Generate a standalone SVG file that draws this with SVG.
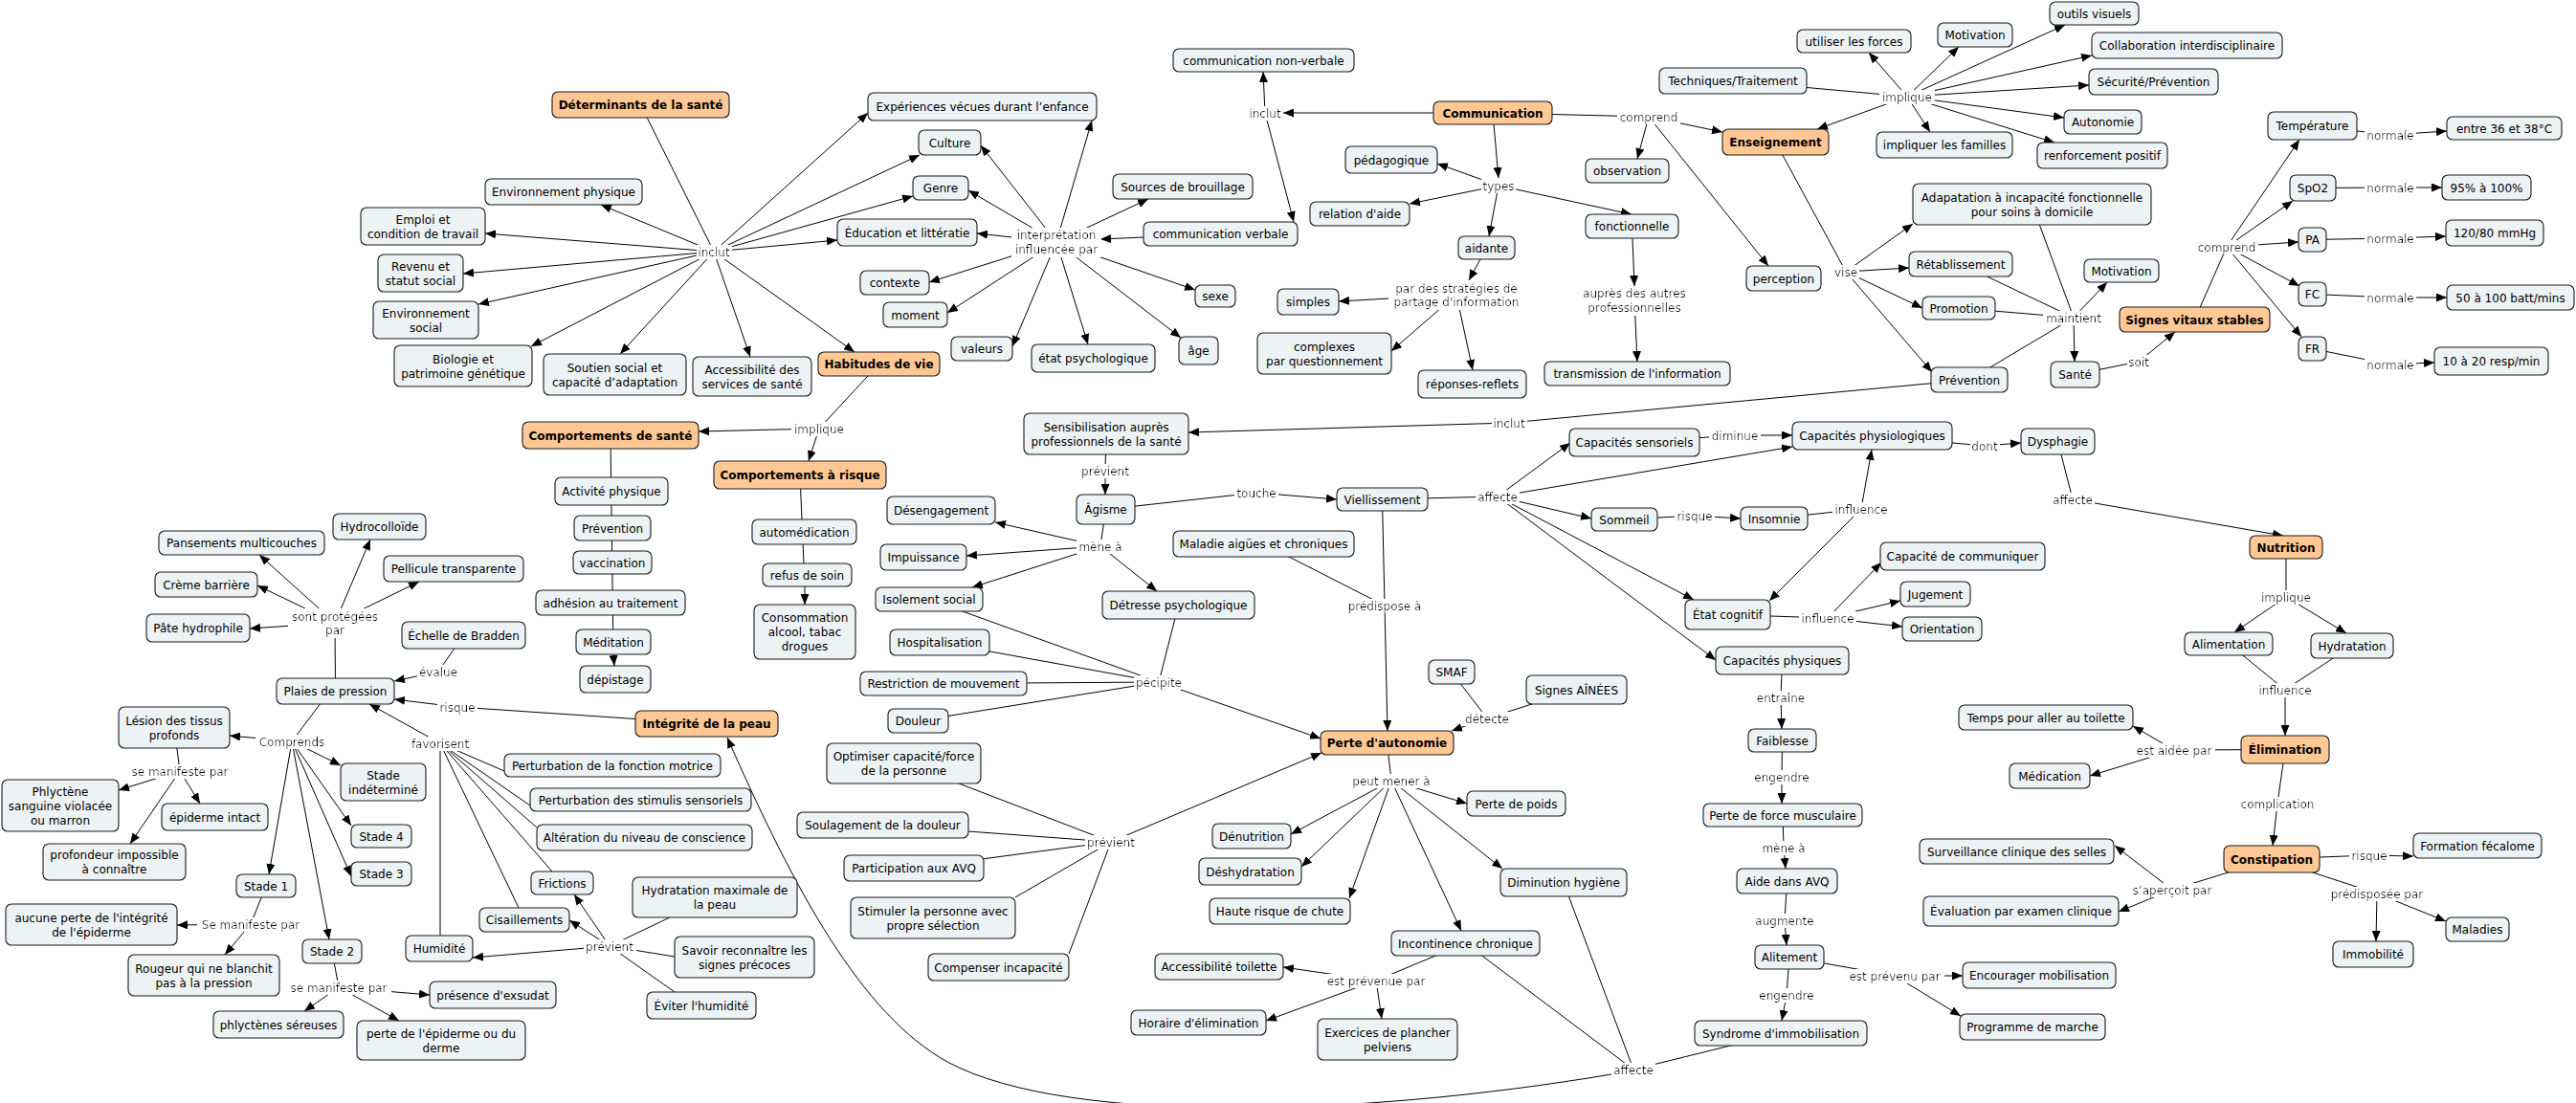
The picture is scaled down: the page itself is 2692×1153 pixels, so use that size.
<svg xmlns="http://www.w3.org/2000/svg" width="2692" height="1153" viewBox="0 0 2692 1153">
<style>
.n rect{fill:#EDF2F4;stroke:#1a1a1a;stroke-width:1.1}
.o rect{fill:#FFC894;stroke:#1a1a1a;stroke-width:1.1}
text{font-family:"DejaVu Sans",Verdana,sans-serif;font-size:12px;fill:#000;text-anchor:middle}
.o text{font-weight:bold}
.c line,.c path{stroke:#000;stroke-width:1;fill:none}
.c .a{marker-end:url(#ah)}
.lp text{filter:url(#bg)}
</style>
<defs>
<marker id="ah" markerUnits="userSpaceOnUse" markerWidth="11" markerHeight="9" refX="11" refY="4.5" orient="auto"><path d="M0,0 L11,4.5 L0,9 Z" fill="#000"/></marker>
<filter id="bg" x="-0.04" y="-0.02" width="1.08" height="1.04"><feFlood flood-color="#fff"/><feComposite in="SourceGraphic" operator="over"/></filter>
</defs>
<rect width="2692" height="1153" fill="#fff"/>
<g id="connectors" class="c">
<line x1="669.5" y1="109.5" x2="746" y2="263"/>
<line class="a" x1="746" y1="263" x2="628" y2="214"/>
<line class="a" x1="746" y1="263" x2="507" y2="244"/>
<line class="a" x1="746" y1="263" x2="484" y2="286"/>
<line class="a" x1="746" y1="263" x2="500" y2="318"/>
<line class="a" x1="746" y1="263" x2="555" y2="362"/>
<line class="a" x1="746" y1="263" x2="648" y2="370"/>
<line class="a" x1="746" y1="263" x2="784" y2="373"/>
<line class="a" x1="746" y1="263" x2="893" y2="368"/>
<line class="a" x1="746" y1="263" x2="875" y2="251"/>
<line class="a" x1="746" y1="263" x2="954" y2="205"/>
<line class="a" x1="746" y1="263" x2="961" y2="162"/>
<line class="a" x1="746" y1="263" x2="907" y2="118"/>
<line class="a" x1="1104" y1="253" x2="1141" y2="126"/>
<line class="a" x1="1104" y1="253" x2="1025" y2="152"/>
<line class="a" x1="1104" y1="253" x2="1012" y2="199"/>
<line class="a" x1="1104" y1="253" x2="1021" y2="244"/>
<line class="a" x1="1104" y1="253" x2="1200" y2="208"/>
<line class="a" x1="1104" y1="253" x2="971" y2="295"/>
<line class="a" x1="1104" y1="253" x2="990" y2="327"/>
<line class="a" x1="1104" y1="253" x2="1058" y2="362"/>
<line class="a" x1="1104" y1="253" x2="1137" y2="360"/>
<line class="a" x1="1104" y1="253" x2="1234" y2="353"/>
<line class="a" x1="1104" y1="253" x2="1249" y2="303"/>
<line class="a" x1="1275.5" y1="244.5" x2="1150" y2="250"/>
<line class="a" x1="1560" y1="118" x2="1341" y2="118"/>
<line class="a" x1="1322" y1="118" x2="1320" y2="75"/>
<line class="a" x1="1322" y1="118" x2="1352" y2="232"/>
<line class="a" x1="1560" y1="118" x2="1566" y2="186"/>
<line class="a" x1="1566" y1="194" x2="1502" y2="171"/>
<line class="a" x1="1566" y1="194" x2="1473" y2="213"/>
<line class="a" x1="1566" y1="194" x2="1556" y2="247"/>
<line class="a" x1="1566" y1="194" x2="1705" y2="224"/>
<line class="a" x1="1553.5" y1="259" x2="1535" y2="293"/>
<line class="a" x1="1522" y1="308" x2="1399" y2="315"/>
<line class="a" x1="1522" y1="308" x2="1454" y2="367"/>
<line class="a" x1="1522" y1="308" x2="1539" y2="387"/>
<line class="a" x1="1705.5" y1="236.5" x2="1708" y2="299"/>
<line class="a" x1="1708" y1="314" x2="1711" y2="378"/>
<line x1="1560" y1="118" x2="1723" y2="122"/>
<line class="a" x1="1723" y1="122" x2="1711" y2="166"/>
<line class="a" x1="1723" y1="122" x2="1848" y2="278"/>
<line class="a" x1="1723" y1="122" x2="1800" y2="138"/>
<line x1="1811" y1="84.5" x2="1993" y2="101"/>
<line class="a" x1="1993" y1="101" x2="1953" y2="55"/>
<line class="a" x1="1993" y1="101" x2="2047" y2="49"/>
<line class="a" x1="1993" y1="101" x2="2158" y2="26"/>
<line class="a" x1="1993" y1="101" x2="2186" y2="58"/>
<line class="a" x1="1993" y1="101" x2="2183" y2="89"/>
<line class="a" x1="1993" y1="101" x2="2157" y2="123"/>
<line class="a" x1="1993" y1="101" x2="2147" y2="149"/>
<line class="a" x1="1993" y1="101" x2="2017" y2="138"/>
<line class="a" x1="1993" y1="101" x2="1899" y2="135"/>
<line x1="1855.5" y1="148.5" x2="1929" y2="284"/>
<line class="a" x1="1929" y1="284" x2="1999" y2="234"/>
<line class="a" x1="1929" y1="284" x2="1995" y2="280"/>
<line class="a" x1="1929" y1="284" x2="2009" y2="322"/>
<line class="a" x1="1929" y1="284" x2="2019" y2="389"/>
<line x1="2123.5" y1="213.5" x2="2167" y2="332"/>
<line x1="2049" y1="276" x2="2167" y2="332"/>
<line x1="2047" y1="322" x2="2167" y2="332"/>
<line x1="2058" y1="397" x2="2167" y2="332"/>
<line class="a" x1="2167" y1="332" x2="2202" y2="295"/>
<line class="a" x1="2167" y1="332" x2="2168" y2="378"/>
<line x1="2168.5" y1="391.5" x2="2235" y2="378"/>
<line class="a" x1="2235" y1="378" x2="2273" y2="347"/>
<line x1="2293.5" y1="334" x2="2327" y2="258"/>
<line class="a" x1="2327" y1="258" x2="2403" y2="146"/>
<line class="a" x1="2327" y1="258" x2="2396" y2="210"/>
<line class="a" x1="2327" y1="258" x2="2402" y2="253"/>
<line class="a" x1="2327" y1="258" x2="2403" y2="299"/>
<line class="a" x1="2327" y1="258" x2="2405" y2="352"/>
<line x1="2416.5" y1="131.5" x2="2498" y2="141"/>
<line class="a" x1="2498" y1="141" x2="2557" y2="137"/>
<line x1="2417" y1="196.5" x2="2498" y2="196"/>
<line class="a" x1="2498" y1="196" x2="2552" y2="196"/>
<line x1="2416.5" y1="250.5" x2="2498" y2="249"/>
<line class="a" x1="2498" y1="249" x2="2556" y2="247"/>
<line x1="2416.5" y1="307.5" x2="2498" y2="311"/>
<line class="a" x1="2498" y1="311" x2="2557" y2="311"/>
<line x1="2416.5" y1="364.5" x2="2498" y2="381"/>
<line class="a" x1="2498" y1="381" x2="2544" y2="379"/>
<line x1="2058" y1="397" x2="1577" y2="442"/>
<line class="a" x1="1577" y1="442" x2="1242" y2="452"/>
<line x1="1156" y1="453.5" x2="1155" y2="492"/>
<line class="a" x1="1155" y1="492" x2="1155" y2="517"/>
<line x1="1155.5" y1="532.5" x2="1313" y2="515"/>
<line class="a" x1="1313" y1="515" x2="1397" y2="522"/>
<line x1="1155.5" y1="532.5" x2="1150" y2="571"/>
<line class="a" x1="1150" y1="571" x2="1040" y2="546"/>
<line class="a" x1="1150" y1="571" x2="1010" y2="581"/>
<line class="a" x1="1150" y1="571" x2="1016" y2="614"/>
<line class="a" x1="1150" y1="571" x2="1209" y2="618"/>
<line x1="971" y1="626.5" x2="1211" y2="713"/>
<line x1="982" y1="671.5" x2="1211" y2="713"/>
<line x1="986" y1="714.5" x2="1211" y2="713"/>
<line x1="959.5" y1="753.5" x2="1211" y2="713"/>
<line x1="1231.5" y1="632.5" x2="1211" y2="713"/>
<line class="a" x1="1211" y1="713" x2="1380" y2="772"/>
<line x1="1444.5" y1="522" x2="1447" y2="633"/>
<line x1="1320.5" y1="568.5" x2="1447" y2="633"/>
<line class="a" x1="1447" y1="633" x2="1450" y2="764"/>
<line x1="1517" y1="702.5" x2="1554" y2="751"/>
<line x1="1647.5" y1="721" x2="1554" y2="751"/>
<line class="a" x1="1554" y1="751" x2="1517" y2="764"/>
<line x1="1444.5" y1="522" x2="1565" y2="519"/>
<line class="a" x1="1565" y1="519" x2="1641" y2="463"/>
<line class="a" x1="1565" y1="519" x2="1873" y2="467"/>
<line class="a" x1="1565" y1="519" x2="1663" y2="542"/>
<line class="a" x1="1565" y1="519" x2="1770" y2="627"/>
<line class="a" x1="1565" y1="519" x2="1793" y2="690"/>
<line x1="1708" y1="462.5" x2="1813" y2="455"/>
<line class="a" x1="1813" y1="455" x2="1873" y2="455"/>
<line x1="1697.5" y1="543" x2="1771" y2="539"/>
<line class="a" x1="1771" y1="539" x2="1819" y2="542"/>
<line x1="1854" y1="542" x2="1945" y2="532"/>
<line class="a" x1="1945" y1="532" x2="1956" y2="470"/>
<line class="a" x1="1945" y1="532" x2="1849" y2="628"/>
<line x1="1956.5" y1="455.5" x2="2074" y2="466"/>
<line class="a" x1="2074" y1="466" x2="2112" y2="463"/>
<line x1="2150.5" y1="461.5" x2="2166" y2="522"/>
<line class="a" x1="2166" y1="522" x2="2386" y2="560"/>
<line x1="2389" y1="572" x2="2389" y2="624"/>
<line class="a" x1="2389" y1="624" x2="2335" y2="661"/>
<line class="a" x1="2389" y1="624" x2="2452" y2="662"/>
<line x1="2329" y1="673" x2="2388" y2="721"/>
<line x1="2458" y1="675" x2="2388" y2="721"/>
<line class="a" x1="2388" y1="721" x2="2388" y2="769"/>
<line x1="1805.5" y1="642.5" x2="1910" y2="646"/>
<line class="a" x1="1910" y1="646" x2="1966" y2="588"/>
<line class="a" x1="1910" y1="646" x2="1986" y2="628"/>
<line class="a" x1="1910" y1="646" x2="1988" y2="655"/>
<line x1="1862.5" y1="690.5" x2="1861" y2="729"/>
<line class="a" x1="1861" y1="729" x2="1862" y2="762"/>
<line x1="1862.5" y1="774" x2="1862" y2="812"/>
<line class="a" x1="1862" y1="812" x2="1862" y2="840"/>
<line x1="1863" y1="852" x2="1864" y2="886"/>
<line class="a" x1="1864" y1="886" x2="1866" y2="908"/>
<line x1="1867.5" y1="921" x2="1865" y2="962"/>
<line class="a" x1="1865" y1="962" x2="1867" y2="988"/>
<line x1="1870" y1="1000.5" x2="1867" y2="1040"/>
<line class="a" x1="1867" y1="1040" x2="1862" y2="1067"/>
<line x1="1870" y1="1000.5" x2="1980" y2="1020"/>
<line class="a" x1="1980" y1="1020" x2="2051" y2="1020"/>
<line class="a" x1="1980" y1="1020" x2="2049" y2="1062"/>
<line x1="2388" y1="783.5" x2="2272" y2="784"/>
<line class="a" x1="2272" y1="784" x2="2229" y2="759"/>
<line class="a" x1="2272" y1="784" x2="2184" y2="811"/>
<line x1="2388" y1="783.5" x2="2380" y2="840"/>
<line class="a" x1="2380" y1="840" x2="2375" y2="884"/>
<line x1="2374" y1="898" x2="2476" y2="894"/>
<line class="a" x1="2476" y1="894" x2="2522" y2="895"/>
<line x1="2374" y1="898" x2="2270" y2="930"/>
<line class="a" x1="2270" y1="930" x2="2210" y2="884"/>
<line class="a" x1="2270" y1="930" x2="2214" y2="953"/>
<line x1="2374" y1="898" x2="2484" y2="934"/>
<line class="a" x1="2484" y1="934" x2="2483" y2="984"/>
<line class="a" x1="2484" y1="934" x2="2556" y2="963"/>
<line x1="1449.5" y1="776.5" x2="1454" y2="816"/>
<line class="a" x1="1454" y1="816" x2="1533" y2="840"/>
<line class="a" x1="1454" y1="816" x2="1349" y2="872"/>
<line class="a" x1="1454" y1="816" x2="1360" y2="906"/>
<line class="a" x1="1454" y1="816" x2="1410" y2="939"/>
<line class="a" x1="1454" y1="816" x2="1527" y2="973"/>
<line class="a" x1="1454" y1="816" x2="1570" y2="908"/>
<line x1="1531.5" y1="986" x2="1438" y2="1025"/>
<line class="a" x1="1438" y1="1025" x2="1341" y2="1011"/>
<line class="a" x1="1438" y1="1025" x2="1323" y2="1067"/>
<line class="a" x1="1438" y1="1025" x2="1444" y2="1065"/>
<line x1="1531.5" y1="986" x2="1707" y2="1118"/>
<line x1="1634" y1="922.5" x2="1707" y2="1118"/>
<line x1="1861" y1="1080" x2="1707" y2="1118"/>
<path class="a" d="M1707,1119 C1450,1165 1120,1180 990,1110 C900,1060 830,930 760,771"/>
<line x1="1002" y1="819" x2="1161" y2="880"/>
<line x1="922.5" y1="862.5" x2="1161" y2="880"/>
<line x1="955" y1="907.5" x2="1161" y2="880"/>
<line x1="1061" y1="938" x2="1161" y2="880"/>
<line x1="1117" y1="997" x2="1161" y2="880"/>
<line class="a" x1="1161" y1="880" x2="1381" y2="787"/>
<line x1="738.5" y1="756.5" x2="478" y2="739"/>
<line class="a" x1="478" y1="739" x2="412" y2="731"/>
<line x1="484.5" y1="664" x2="458" y2="702"/>
<line class="a" x1="458" y1="702" x2="412" y2="712"/>
<line x1="350.5" y1="722.5" x2="350" y2="651"/>
<line class="a" x1="350" y1="651" x2="387" y2="564"/>
<line class="a" x1="350" y1="651" x2="271" y2="580"/>
<line class="a" x1="350" y1="651" x2="438" y2="608"/>
<line class="a" x1="350" y1="651" x2="269" y2="612"/>
<line class="a" x1="350" y1="651" x2="261" y2="657"/>
<line x1="339" y1="730" x2="305" y2="775"/>
<line class="a" x1="305" y1="775" x2="240" y2="769"/>
<line class="a" x1="305" y1="775" x2="356" y2="800"/>
<line class="a" x1="305" y1="775" x2="367" y2="863"/>
<line class="a" x1="305" y1="775" x2="367" y2="916"/>
<line class="a" x1="305" y1="775" x2="281" y2="914"/>
<line class="a" x1="305" y1="775" x2="344" y2="982"/>
<line x1="182" y1="760.5" x2="188" y2="806"/>
<line class="a" x1="188" y1="806" x2="124" y2="826"/>
<line class="a" x1="188" y1="806" x2="209" y2="840"/>
<line class="a" x1="188" y1="806" x2="136" y2="882"/>
<line x1="278" y1="926" x2="262" y2="966"/>
<line class="a" x1="262" y1="966" x2="185" y2="967"/>
<line class="a" x1="262" y1="966" x2="235" y2="998"/>
<line x1="347" y1="994.5" x2="354" y2="1032"/>
<line class="a" x1="354" y1="1032" x2="449" y2="1040"/>
<line class="a" x1="354" y1="1032" x2="318" y2="1057"/>
<line class="a" x1="354" y1="1032" x2="417" y2="1067"/>
<line x1="527" y1="806" x2="460" y2="777"/>
<line x1="554" y1="842" x2="460" y2="777"/>
<line x1="561" y1="865" x2="460" y2="777"/>
<line x1="577" y1="911" x2="460" y2="777"/>
<line x1="542" y1="949" x2="460" y2="777"/>
<line x1="460" y1="978" x2="460" y2="777"/>
<line class="a" x1="460" y1="777" x2="386" y2="736"/>
<line x1="700" y1="959" x2="637" y2="989"/>
<line x1="705" y1="1000" x2="637" y2="989"/>
<line x1="705" y1="1037" x2="637" y2="989"/>
<line class="a" x1="637" y1="989" x2="600" y2="935"/>
<line class="a" x1="637" y1="989" x2="595" y2="962"/>
<line class="a" x1="637" y1="989" x2="494" y2="1001"/>
<line x1="918.5" y1="380.5" x2="856" y2="448"/>
<line class="a" x1="856" y1="448" x2="730" y2="451"/>
<line class="a" x1="856" y1="448" x2="845" y2="482"/>
<line x1="638" y1="455" x2="641" y2="684"/>
<line class="a" x1="641" y1="684" x2="642" y2="696"/>
<line x1="836" y1="496.5" x2="841" y2="613"/>
<line class="a" x1="841" y1="613" x2="841" y2="632"/>
</g>
<g id="links" class="lp">
<text x="746" y="267.5">inclut</text>
<text x="1104" y="250">interprétation<tspan x="1104" y="265">influencée par</tspan></text>
<text x="1322" y="122.5">inclut</text>
<text x="1723" y="126.5">comprend</text>
<text x="1566" y="198.5">types</text>
<text x="1522" y="305.5">par des stratégies de<tspan x="1522" y="319.5">partage d'information</tspan></text>
<text x="1708" y="311">auprès des autres<tspan x="1708" y="325.5">professionnelles</tspan></text>
<text x="1993" y="105.5">implique</text>
<text x="1929" y="288.5">vise</text>
<text x="2167" y="336.5">maintient</text>
<text x="2235" y="382.5">soit</text>
<text x="2327" y="262.5">comprend</text>
<text x="2498" y="145.5">normale</text>
<text x="2498" y="200.5">normale</text>
<text x="2498" y="253.5">normale</text>
<text x="2498" y="315.5">normale</text>
<text x="2498" y="385.5">normale</text>
<text x="856" y="452.5">implique</text>
<text x="350" y="648.5">sont protégées<tspan x="350" y="662.5">par</tspan></text>
<text x="458" y="706.5">évalue</text>
<text x="478" y="743.5">risque</text>
<text x="1577" y="446.5">inclut</text>
<text x="1155" y="496.5">prévient</text>
<text x="1313" y="519.5">touche</text>
<text x="1565" y="523.5">affecte</text>
<text x="1771" y="543.5">risque</text>
<text x="1150" y="575.5">mène à</text>
<text x="1447" y="637.5">prédispose à</text>
<text x="1211" y="717.5">pécipite</text>
<text x="1554" y="755.5">détecte</text>
<text x="1813" y="459.5">diminue</text>
<text x="2074" y="470.5">dont</text>
<text x="1945" y="536.5">influence</text>
<text x="2166" y="526.5">affecte</text>
<text x="2389" y="628.5">implique</text>
<text x="2388" y="725.5">influence</text>
<text x="1910" y="650.5">influence</text>
<text x="1861" y="733.5">entraîne</text>
<text x="2272" y="788.5">est aidée par</text>
<text x="1862" y="816.5">engendre</text>
<text x="1864" y="890.5">mène à</text>
<text x="1865" y="966.5">augmente</text>
<text x="1980" y="1024.5">est prévenu par</text>
<text x="1867" y="1044.5">engendre</text>
<text x="2380" y="844.5">complication</text>
<text x="2476" y="898.5">risque</text>
<text x="2270" y="934.5">s’aperçoit par</text>
<text x="2484" y="938.5">prédisposée par</text>
<text x="1161" y="884.5">prévient</text>
<text x="1454" y="820.5">peut mener à</text>
<text x="1438" y="1029.5">est prévenue par</text>
<text x="1707" y="1122.5">affecte</text>
<text x="305" y="779.5">Comprends</text>
<text x="460" y="781.5">favorisent</text>
<text x="188" y="810.5">se manifeste par</text>
<text x="262" y="970.5">Se manifeste par</text>
<text x="354" y="1036.5">se manifeste par</text>
<text x="637" y="993.5">prévient</text>
</g>
<g id="nodes">
<g id="n1" class="o"><rect x="577" y="96" width="185" height="27" rx="6"/><text x="669.5" y="114">Déterminants de la santé</text></g>
<g id="n2" class="n"><rect x="507" y="187" width="164" height="27" rx="6"/><text x="589" y="205">Environnement physique</text></g>
<g id="n3" class="n"><rect x="377" y="217" width="130" height="39" rx="6"/><text x="442" y="233.5">Emploi et<tspan x="442" y="248.5">condition de travail</tspan></text></g>
<g id="n4" class="n"><rect x="395" y="266" width="89" height="39" rx="6"/><text x="439.5" y="282.5">Revenu et<tspan x="439.5" y="297.5">statut social</tspan></text></g>
<g id="n5" class="n"><rect x="390" y="315" width="110" height="39" rx="6"/><text x="445" y="331.5">Environnement<tspan x="445" y="346.5">social</tspan></text></g>
<g id="n6" class="n"><rect x="412" y="361" width="144" height="43" rx="6"/><text x="484" y="379.5">Biologie et<tspan x="484" y="394.5">patrimoine génétique</tspan></text></g>
<g id="n7" class="n"><rect x="568" y="370" width="149" height="43" rx="6"/><text x="642.5" y="388.5">Soutien social et<tspan x="642.5" y="403.5">capacité d’adaptation</tspan></text></g>
<g id="n8" class="n"><rect x="724" y="373" width="124" height="41" rx="6"/><text x="786" y="390.5">Accessibilité des<tspan x="786" y="405.5">services de santé</tspan></text></g>
<g id="n9" class="o"><rect x="855" y="368" width="127" height="25" rx="6"/><text x="918.5" y="385">Habitudes de vie</text></g>
<g id="n10" class="n"><rect x="907" y="97" width="239" height="29" rx="6"/><text x="1026.5" y="116">Expériences vécues durant l’enfance</text></g>
<g id="n11" class="n"><rect x="960" y="136" width="65" height="26" rx="6"/><text x="992.5" y="153.5">Culture</text></g>
<g id="n12" class="n"><rect x="954" y="184" width="58" height="25" rx="6"/><text x="983" y="201">Genre</text></g>
<g id="n13" class="n"><rect x="875" y="229" width="146" height="28" rx="6"/><text x="948" y="247.5">Éducation et littératie</text></g>
<g id="n14" class="n"><rect x="1163" y="182" width="146" height="26" rx="6"/><text x="1236" y="199.5">Sources de brouillage</text></g>
<g id="n15" class="n"><rect x="1195" y="232" width="161" height="25" rx="6"/><text x="1275.5" y="249">communication verbale</text></g>
<g id="n16" class="n"><rect x="899" y="283" width="72" height="25" rx="6"/><text x="935" y="300">contexte</text></g>
<g id="n17" class="n"><rect x="923" y="316" width="67" height="26" rx="6"/><text x="956.5" y="333.5">moment</text></g>
<g id="n18" class="n"><rect x="994" y="352" width="64" height="25" rx="6"/><text x="1026" y="369">valeurs</text></g>
<g id="n19" class="n"><rect x="1078" y="360" width="129" height="29" rx="6"/><text x="1142.5" y="379">état psychologique</text></g>
<g id="n20" class="n"><rect x="1232" y="352" width="41" height="29" rx="6"/><text x="1252.5" y="371">âge</text></g>
<g id="n21" class="n"><rect x="1249" y="298" width="42" height="23" rx="6"/><text x="1270" y="314">sexe</text></g>
<g id="n22" class="n"><rect x="1226" y="51" width="189" height="24" rx="6"/><text x="1320.5" y="67.5">communication non-verbale</text></g>
<g id="n23" class="o"><rect x="1498" y="106" width="124" height="24" rx="6"/><text x="1560" y="122.5">Communication</text></g>
<g id="n24" class="n"><rect x="1406" y="153" width="96" height="28" rx="6"/><text x="1454" y="171.5">pédagogique</text></g>
<g id="n25" class="n"><rect x="1369" y="211" width="104" height="25" rx="6"/><text x="1421" y="228">relation d'aide</text></g>
<g id="n26" class="n"><rect x="1524" y="247" width="59" height="24" rx="6"/><text x="1553.5" y="263.5">aidante</text></g>
<g id="n27" class="n"><rect x="1657" y="224" width="97" height="25" rx="6"/><text x="1705.5" y="241">fonctionnelle</text></g>
<g id="n28" class="n"><rect x="1657" y="166" width="87" height="25" rx="6"/><text x="1700.5" y="183">observation</text></g>
<g id="n29" class="n"><rect x="1335" y="302" width="64" height="27" rx="6"/><text x="1367" y="320">simples</text></g>
<g id="n30" class="n"><rect x="1314" y="348" width="140" height="43" rx="6"/><text x="1384" y="366.5">complexes<tspan x="1384" y="381.5">par questionnement</tspan></text></g>
<g id="n31" class="n"><rect x="1482" y="387" width="113" height="29" rx="6"/><text x="1538.5" y="406">réponses-reflets</text></g>
<g id="n32" class="n"><rect x="1614" y="378" width="194" height="25" rx="6"/><text x="1711" y="395">transmission de l'information</text></g>
<g id="n33" class="n"><rect x="1734" y="71" width="154" height="27" rx="6"/><text x="1811" y="89">Techniques/Traitement</text></g>
<g id="n34" class="n"><rect x="1878" y="31" width="119" height="24" rx="6"/><text x="1937.5" y="47.5">utiliser les forces</text></g>
<g id="n35" class="n"><rect x="2025" y="24" width="78" height="25" rx="6"/><text x="2064" y="41">Motivation</text></g>
<g id="n36" class="n"><rect x="2142" y="2" width="93" height="24" rx="6"/><text x="2188.5" y="18.5">outils visuels</text></g>
<g id="n37" class="n"><rect x="2186" y="34" width="199" height="27" rx="6"/><text x="2285.5" y="52">Collaboration interdisciplinaire</text></g>
<g id="n38" class="n"><rect x="2183" y="72" width="135" height="27" rx="6"/><text x="2250.5" y="90">Sécurité/Prévention</text></g>
<g id="n39" class="n"><rect x="2157" y="115" width="81" height="25" rx="6"/><text x="2197.5" y="132">Autonomie</text></g>
<g id="n40" class="n"><rect x="2129" y="149" width="136" height="27" rx="6"/><text x="2197" y="167">renforcement positif</text></g>
<g id="n41" class="n"><rect x="1961" y="138" width="142" height="27" rx="6"/><text x="2032" y="156">impliquer les familles</text></g>
<g id="n42" class="o"><rect x="1800" y="135" width="111" height="27" rx="6"/><text x="1855.5" y="153">Enseignement</text></g>
<g id="n43" class="n"><rect x="1825" y="278" width="78" height="26" rx="6"/><text x="1864" y="295.5">perception</text></g>
<g id="n44" class="n"><rect x="1999" y="192" width="249" height="43" rx="6"/><text x="2123.5" y="210.5">Adapatation à incapacité fonctionnelle<tspan x="2123.5" y="225.5">pour soins à domicile</tspan></text></g>
<g id="n45" class="n"><rect x="1995" y="263" width="108" height="26" rx="6"/><text x="2049" y="280.5">Rétablissement</text></g>
<g id="n46" class="n"><rect x="2009" y="310" width="76" height="24" rx="6"/><text x="2047" y="326.5">Promotion</text></g>
<g id="n47" class="n"><rect x="2178" y="271" width="78" height="24" rx="6"/><text x="2217" y="287.5">Motivation</text></g>
<g id="n48" class="o"><rect x="2215" y="321" width="157" height="26" rx="6"/><text x="2293.5" y="338.5">Signes vitaux stables</text></g>
<g id="n49" class="n"><rect x="2143" y="378" width="51" height="27" rx="6"/><text x="2168.5" y="396">Santé</text></g>
<g id="n50" class="n"><rect x="2018" y="384" width="80" height="26" rx="6"/><text x="2058" y="401.5">Prévention</text></g>
<g id="n51" class="n"><rect x="2370" y="117" width="93" height="29" rx="6"/><text x="2416.5" y="136">Température</text></g>
<g id="n52" class="n"><rect x="2393" y="183" width="48" height="27" rx="6"/><text x="2417" y="201">SpO2</text></g>
<g id="n53" class="n"><rect x="2402" y="238" width="29" height="25" rx="6"/><text x="2416.5" y="255">PA</text></g>
<g id="n54" class="n"><rect x="2402" y="295" width="29" height="25" rx="6"/><text x="2416.5" y="312">FC</text></g>
<g id="n55" class="n"><rect x="2402" y="352" width="29" height="25" rx="6"/><text x="2416.5" y="369">FR</text></g>
<g id="n56" class="n"><rect x="2557" y="122" width="120" height="24" rx="6"/><text x="2617" y="138.5">entre 36 et 38°C</text></g>
<g id="n57" class="n"><rect x="2552" y="183" width="93" height="26" rx="6"/><text x="2598.5" y="200.5">95% à 100%</text></g>
<g id="n58" class="n"><rect x="2556" y="230" width="102" height="27" rx="6"/><text x="2607" y="248">120/80 mmHg</text></g>
<g id="n59" class="n"><rect x="2557" y="298" width="133" height="26" rx="6"/><text x="2623.5" y="315.5">50 à 100 batt/mins</text></g>
<g id="n60" class="n"><rect x="2544" y="363" width="119" height="29" rx="6"/><text x="2603.5" y="382">10 à 20 resp/min</text></g>
<g id="n61" class="o"><rect x="546" y="441" width="184" height="28" rx="6"/><text x="638" y="459.5">Comportements de santé</text></g>
<g id="n62" class="o"><rect x="746" y="482" width="180" height="29" rx="6"/><text x="836" y="501">Comportements à risque</text></g>
<g id="n63" class="n"><rect x="580" y="499" width="118" height="29" rx="6"/><text x="639" y="518">Activité physique</text></g>
<g id="n64" class="n"><rect x="600" y="539" width="80" height="26" rx="6"/><text x="640" y="556.5">Prévention</text></g>
<g id="n65" class="n"><rect x="599" y="576" width="82" height="24" rx="6"/><text x="640" y="592.5">vaccination</text></g>
<g id="n66" class="n"><rect x="560" y="617" width="156" height="26" rx="6"/><text x="638" y="634.5">adhésion au traitement</text></g>
<g id="n67" class="n"><rect x="602" y="658" width="78" height="26" rx="6"/><text x="641" y="675.5">Méditation</text></g>
<g id="n68" class="n"><rect x="606" y="696" width="74" height="28" rx="6"/><text x="643" y="714.5">dépistage</text></g>
<g id="n69" class="n"><rect x="786" y="543" width="109" height="26" rx="6"/><text x="840.5" y="560.5">automédication</text></g>
<g id="n70" class="n"><rect x="797" y="589" width="93" height="24" rx="6"/><text x="843.5" y="605.5">refus de soin</text></g>
<g id="n71" class="n"><rect x="788" y="632" width="106" height="57" rx="6"/><text x="841" y="650">Consommation<tspan x="841" y="665">alcool, tabac</tspan><tspan x="841" y="680">drogues</tspan></text></g>
<g id="n72" class="n"><rect x="348" y="537" width="97" height="27" rx="6"/><text x="396.5" y="555">Hydrocolloïde</text></g>
<g id="n73" class="n"><rect x="166" y="555" width="173" height="25" rx="6"/><text x="252.5" y="572">Pansements multicouches</text></g>
<g id="n74" class="n"><rect x="401" y="581" width="146" height="27" rx="6"/><text x="474" y="599">Pellicule transparente</text></g>
<g id="n75" class="n"><rect x="162" y="598" width="107" height="26" rx="6"/><text x="215.5" y="615.5">Crème barrière</text></g>
<g id="n76" class="n"><rect x="153" y="642" width="108" height="29" rx="6"/><text x="207" y="661">Pâte hydrophile</text></g>
<g id="n77" class="n"><rect x="420" y="650" width="129" height="28" rx="6"/><text x="484.5" y="668.5">Échelle de Bradden</text></g>
<g id="n78" class="n"><rect x="289" y="709" width="123" height="27" rx="6"/><text x="350.5" y="727">Plaies de pression</text></g>
<g id="n79" class="o"><rect x="664" y="743" width="149" height="27" rx="6"/><text x="738.5" y="761">Intégrité de la peau</text></g>
<g id="n80" class="n"><rect x="124" y="739" width="116" height="43" rx="6"/><text x="182" y="757.5">Lésion des tissus<tspan x="182" y="772.5">profonds</tspan></text></g>
<g id="n81" class="n"><rect x="1070" y="432" width="172" height="43" rx="6"/><text x="1156" y="450.5">Sensibilisation auprès<tspan x="1156" y="465.5">professionnels de la santé</tspan></text></g>
<g id="n82" class="n"><rect x="1125" y="517" width="61" height="31" rx="6"/><text x="1155.5" y="537">Âgisme</text></g>
<g id="n83" class="n"><rect x="1397" y="510" width="95" height="24" rx="6"/><text x="1444.5" y="526.5">Viellissement</text></g>
<g id="n84" class="n"><rect x="1640" y="448" width="136" height="29" rx="6"/><text x="1708" y="467">Capacités sensoriels</text></g>
<g id="n85" class="n"><rect x="1663" y="531" width="69" height="24" rx="6"/><text x="1697.5" y="547.5">Sommeil</text></g>
<g id="n86" class="n"><rect x="927" y="519" width="113" height="29" rx="6"/><text x="983.5" y="538">Désengagement</text></g>
<g id="n87" class="n"><rect x="920" y="569" width="90" height="27" rx="6"/><text x="965" y="587">Impuissance</text></g>
<g id="n88" class="n"><rect x="915" y="614" width="112" height="25" rx="6"/><text x="971" y="631">Isolement social</text></g>
<g id="n89" class="n"><rect x="1226" y="555" width="189" height="27" rx="6"/><text x="1320.5" y="573">Maladie aigües et chroniques</text></g>
<g id="n90" class="n"><rect x="1152" y="618" width="159" height="29" rx="6"/><text x="1231.5" y="637">Détresse psychologique</text></g>
<g id="n91" class="n"><rect x="930" y="658" width="104" height="27" rx="6"/><text x="982" y="676">Hospitalisation</text></g>
<g id="n92" class="n"><rect x="899" y="702" width="174" height="25" rx="6"/><text x="986" y="719">Restriction de mouvement</text></g>
<g id="n93" class="n"><rect x="928" y="741" width="63" height="25" rx="6"/><text x="959.5" y="758">Douleur</text></g>
<g id="n94" class="n"><rect x="1493" y="690" width="48" height="25" rx="6"/><text x="1517" y="707">SMAF</text></g>
<g id="n95" class="n"><rect x="1595" y="706" width="105" height="30" rx="6"/><text x="1647.5" y="725.5">Signes AÎNÉES</text></g>
<g id="n96" class="o"><rect x="1380" y="764" width="139" height="25" rx="6"/><text x="1449.5" y="781">Perte d'autonomie</text></g>
<g id="n97" class="n"><rect x="1761" y="627" width="89" height="31" rx="6"/><text x="1805.5" y="647">État cognitif</text></g>
<g id="n98" class="n"><rect x="1793" y="676" width="139" height="29" rx="6"/><text x="1862.5" y="695">Capacités physiques</text></g>
<g id="n99" class="n"><rect x="1873" y="441" width="167" height="29" rx="6"/><text x="1956.5" y="460">Capacités physiologiques</text></g>
<g id="n100" class="n"><rect x="2112" y="448" width="77" height="27" rx="6"/><text x="2150.5" y="466">Dysphagie</text></g>
<g id="n101" class="n"><rect x="1819" y="530" width="70" height="24" rx="6"/><text x="1854" y="546.5">Insomnie</text></g>
<g id="n102" class="o"><rect x="2351" y="560" width="76" height="24" rx="6"/><text x="2389" y="576.5">Nutrition</text></g>
<g id="n103" class="n"><rect x="2283" y="661" width="92" height="24" rx="6"/><text x="2329" y="677.5">Alimentation</text></g>
<g id="n104" class="n"><rect x="2415" y="662" width="86" height="26" rx="6"/><text x="2458" y="679.5">Hydratation</text></g>
<g id="n105" class="n"><rect x="1965" y="567" width="172" height="29" rx="6"/><text x="2051" y="586">Capacité de communiquer</text></g>
<g id="n106" class="n"><rect x="1986" y="608" width="73" height="26" rx="6"/><text x="2022.5" y="625.5">Jugement</text></g>
<g id="n107" class="n"><rect x="1988" y="645" width="83" height="25" rx="6"/><text x="2029.5" y="662">Orientation</text></g>
<g id="n108" class="n"><rect x="2047" y="737" width="182" height="26" rx="6"/><text x="2138" y="754.5">Temps pour aller au toilette</text></g>
<g id="n109" class="n"><rect x="1827" y="762" width="71" height="24" rx="6"/><text x="1862.5" y="778.5">Faiblesse</text></g>
<g id="n110" class="o"><rect x="2342" y="769" width="92" height="29" rx="6"/><text x="2388" y="788">Élimination</text></g>
<g id="n111" class="n"><rect x="2100" y="798" width="84" height="26" rx="6"/><text x="2142" y="815.5">Médication</text></g>
<g id="n112" class="n"><rect x="1780" y="840" width="166" height="24" rx="6"/><text x="1863" y="856.5">Perte de force musculaire</text></g>
<g id="n113" class="n"><rect x="1815" y="908" width="105" height="26" rx="6"/><text x="1867.5" y="925.5">Aide dans AVQ</text></g>
<g id="n114" class="n"><rect x="1834" y="988" width="72" height="25" rx="6"/><text x="1870" y="1005">Alitement</text></g>
<g id="n115" class="n"><rect x="2051" y="1006" width="160" height="27" rx="6"/><text x="2131" y="1024">Encourager mobilisation</text></g>
<g id="n116" class="n"><rect x="2048" y="1060" width="152" height="27" rx="6"/><text x="2124" y="1078">Programme de marche</text></g>
<g id="n117" class="n"><rect x="1771" y="1067" width="180" height="26" rx="6"/><text x="1861" y="1084.5">Syndrome d'immobilisation</text></g>
<g id="n118" class="o"><rect x="2324" y="884" width="100" height="28" rx="6"/><text x="2374" y="902.5">Constipation</text></g>
<g id="n119" class="n"><rect x="2522" y="871" width="134" height="26" rx="6"/><text x="2589" y="888.5">Formation fécalome</text></g>
<g id="n120" class="n"><rect x="2006" y="877" width="203" height="26" rx="6"/><text x="2107.5" y="894.5">Surveillance clinique des selles</text></g>
<g id="n121" class="n"><rect x="2010" y="937" width="204" height="31" rx="6"/><text x="2112" y="957">Évaluation par examen clinique</text></g>
<g id="n122" class="n"><rect x="2556" y="959" width="66" height="25" rx="6"/><text x="2589" y="976">Maladies</text></g>
<g id="n123" class="n"><rect x="2438" y="984" width="84" height="27" rx="6"/><text x="2480" y="1002">Immobilité</text></g>
<g id="n124" class="n"><rect x="864" y="777" width="161" height="42" rx="6"/><text x="944.5" y="795">Optimiser capacité/force<tspan x="944.5" y="810">de la personne</tspan></text></g>
<g id="n125" class="n"><rect x="833" y="849" width="179" height="27" rx="6"/><text x="922.5" y="867">Soulagement de la douleur</text></g>
<g id="n126" class="n"><rect x="882" y="894" width="146" height="27" rx="6"/><text x="955" y="912">Participation aux AVQ</text></g>
<g id="n127" class="n"><rect x="889" y="938" width="172" height="43" rx="6"/><text x="975" y="956.5">Stimuler la personne avec<tspan x="975" y="971.5">propre sélection</tspan></text></g>
<g id="n128" class="n"><rect x="970" y="997" width="147" height="28" rx="6"/><text x="1043.5" y="1015.5">Compenser incapacité</text></g>
<g id="n129" class="n"><rect x="1533" y="827" width="103" height="26" rx="6"/><text x="1584.5" y="844.5">Perte de poids</text></g>
<g id="n130" class="n"><rect x="1267" y="861" width="82" height="26" rx="6"/><text x="1308" y="878.5">Dénutrition</text></g>
<g id="n131" class="n"><rect x="1253" y="897" width="107" height="28" rx="6"/><text x="1306.5" y="915.5">Déshydratation</text></g>
<g id="n132" class="n"><rect x="1264" y="939" width="147" height="27" rx="6"/><text x="1337.5" y="957">Haute risque de chute</text></g>
<g id="n133" class="n"><rect x="1568" y="908" width="132" height="29" rx="6"/><text x="1634" y="927">Diminution hygiène</text></g>
<g id="n134" class="n"><rect x="1454" y="973" width="155" height="26" rx="6"/><text x="1531.5" y="990.5">Incontinence chronique</text></g>
<g id="n135" class="n"><rect x="1207" y="997" width="134" height="27" rx="6"/><text x="1274" y="1015">Accessibilité toilette</text></g>
<g id="n136" class="n"><rect x="1182" y="1056" width="141" height="26" rx="6"/><text x="1252.5" y="1073.5">Horaire d'élimination</text></g>
<g id="n137" class="n"><rect x="1377" y="1065" width="146" height="43" rx="6"/><text x="1450" y="1083.5">Exercices de plancher<tspan x="1450" y="1098.5">pelviens</tspan></text></g>
<g id="n138" class="n"><rect x="356" y="798" width="89" height="39" rx="6"/><text x="400.5" y="814.5">Stade<tspan x="400.5" y="829.5">indéterminé</tspan></text></g>
<g id="n139" class="n"><rect x="367" y="862" width="63" height="24" rx="6"/><text x="398.5" y="878.5">Stade 4</text></g>
<g id="n140" class="n"><rect x="367" y="901" width="63" height="25" rx="6"/><text x="398.5" y="918">Stade 3</text></g>
<g id="n141" class="n"><rect x="247" y="914" width="62" height="24" rx="6"/><text x="278" y="930.5">Stade 1</text></g>
<g id="n142" class="n"><rect x="316" y="982" width="62" height="25" rx="6"/><text x="347" y="999">Stade 2</text></g>
<g id="n143" class="n"><rect x="2" y="815" width="122" height="54" rx="6"/><text x="63" y="831.5">Phlyctène<tspan x="63" y="846.5">sanguine violacée</tspan><tspan x="63" y="861.5">ou marron</tspan></text></g>
<g id="n144" class="n"><rect x="169" y="840" width="111" height="28" rx="6"/><text x="224.5" y="858.5">épiderme intact</text></g>
<g id="n145" class="n"><rect x="45" y="882" width="149" height="38" rx="6"/><text x="119.5" y="898">profondeur impossible<tspan x="119.5" y="913">à connaître</tspan></text></g>
<g id="n146" class="n"><rect x="6" y="945" width="179" height="43" rx="6"/><text x="95.5" y="963.5">aucune perte de l'intégrité<tspan x="95.5" y="978.5">de l'épiderme</tspan></text></g>
<g id="n147" class="n"><rect x="134" y="998" width="158" height="43" rx="6"/><text x="213" y="1016.5">Rougeur qui ne blanchit<tspan x="213" y="1031.5">pas à la pression</tspan></text></g>
<g id="n148" class="n"><rect x="449" y="1026" width="132" height="28" rx="6"/><text x="515" y="1044.5">présence d'exsudat</text></g>
<g id="n149" class="n"><rect x="223" y="1057" width="136" height="28" rx="6"/><text x="291" y="1075.5">phlyctènes séreuses</text></g>
<g id="n150" class="n"><rect x="373" y="1067" width="176" height="41" rx="6"/><text x="461" y="1084.5">perte de l'épiderme ou du<tspan x="461" y="1099.5">derme</tspan></text></g>
<g id="n151" class="n"><rect x="527" y="788" width="226" height="24" rx="6"/><text x="640" y="804.5">Perturbation de la fonction motrice</text></g>
<g id="n152" class="n"><rect x="554" y="824" width="231" height="24" rx="6"/><text x="669.5" y="840.5">Perturbation des stimulis sensoriels</text></g>
<g id="n153" class="n"><rect x="561" y="862" width="225" height="27" rx="6"/><text x="673.5" y="880">Altération du niveau de conscience</text></g>
<g id="n154" class="n"><rect x="555" y="911" width="65" height="24" rx="6"/><text x="587.5" y="927.5">Frictions</text></g>
<g id="n155" class="n"><rect x="501" y="949" width="94" height="25" rx="6"/><text x="548" y="966">Cisaillements</text></g>
<g id="n156" class="n"><rect x="424" y="978" width="70" height="27" rx="6"/><text x="459" y="996">Humidité</text></g>
<g id="n157" class="n"><rect x="661" y="917" width="172" height="42" rx="6"/><text x="747" y="935">Hydratation maximale de<tspan x="747" y="950">la peau</tspan></text></g>
<g id="n158" class="n"><rect x="705" y="979" width="146" height="43" rx="6"/><text x="778" y="997.5">Savoir reconnaître les<tspan x="778" y="1012.5">signes précoces</tspan></text></g>
<g id="n159" class="n"><rect x="676" y="1037" width="114" height="28" rx="6"/><text x="733" y="1055.5">Éviter l'humidité</text></g>
</g>
</svg>
